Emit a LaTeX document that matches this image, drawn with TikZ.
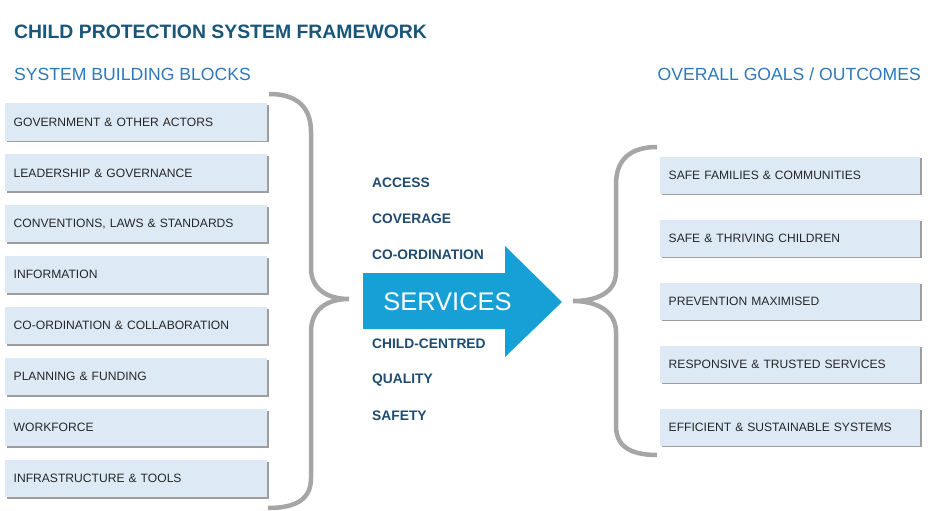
\documentclass[tikz,border=0pt]{standalone}
\usepackage{fontspec}
\setmainfont{Liberation Sans}
\usetikzlibrary{shadows}
\definecolor{titleblue}{RGB}{24,86,122}
\definecolor{headblue}{RGB}{46,120,185}
\definecolor{wordblue}{RGB}{30,75,112}
\definecolor{boxblue}{RGB}{221,234,246}
\definecolor{arrowblue}{RGB}{22,160,214}
\definecolor{bracegray}{RGB}{166,166,166}
\tikzset{
	block/.style={fill=boxblue, anchor=west, align=left, inner xsep=8.5pt,
		minimum height=37pt, text=black!85, font=\fontsize{12.1}{13}\selectfont,
		drop shadow={shadow xshift=1.6pt, shadow yshift=-1.8pt, fill=black!55, opacity=.7}},
	quality word/.style={anchor=west, inner xsep=0pt, text=wordblue, font=\bfseries\fontsize{13.8}{15}\selectfont},
	brace/.style={draw=bracegray, line width=4.5pt}
}
\begin{document}
\begin{tikzpicture}[x=1pt, y=-1pt]
	\useasboundingbox (0,0) rectangle (938,511);
	%headings
	\node (title) at (14,31.5) [anchor=west, inner xsep=0pt, text=titleblue, font=\bfseries\fontsize{19.4}{22}\selectfont]{CHILD PROTECTION SYSTEM FRAMEWORK};
	\node (blocks) at (14,74) [anchor=west, inner xsep=0pt, text=headblue, font=\fontsize{17.6}{20}\selectfont]{SYSTEM BUILDING BLOCKS};
	\node (goals) at (921,74) [anchor=east, inner xsep=0pt, text=headblue, font=\fontsize{17.6}{20}\selectfont]{OVERALL GOALS / OUTCOMES};

	%building blocks
	\foreach \t [count=\i] in {GOVERNMENT \& OTHER ACTORS, LEADERSHIP \& GOVERNANCE,
		{CONVENTIONS, LAWS \& STANDARDS}, INFORMATION, CO-ORDINATION \& COLLABORATION,
		PLANNING \& FUNDING, WORKFORCE, INFRASTRUCTURE \& TOOLS}{
		\node (blk\i) at (5, 122+50.9*\i-50.9) [block, text width=245pt]{\t};
	}

	%goals
	\foreach \t [count=\i] in {SAFE FAMILIES \& COMMUNITIES, SAFE \& THRIVING CHILDREN,
		PREVENTION MAXIMISED, RESPONSIVE \& TRUSTED SERVICES,
		EFFICIENT \& SUSTAINABLE SYSTEMS}{
		\node (goal\i) at (660, 175+63*\i-63) [block, text width=243pt]{\t};
	}

	%braces
	\draw[brace] (269,94) .. controls (298,94) and (311,108) .. (311,132) -- (311,268)
		.. controls (311,288) and (326,299) .. (349,299)
		.. controls (326,299) and (311,310) .. (311,332) -- (311,478)
		.. controls (311,498) and (298,508) .. (268,508);
	\draw[brace] (657,147) .. controls (630,147) and (616,160) .. (616,184) -- (616,272)
		.. controls (616,292) and (598,301) .. (573,301)
		.. controls (598,301) and (616,312) .. (616,332) -- (616,426)
		.. controls (616,446) and (630,455) .. (657,455);

	%services arrow
	\fill[arrowblue] (363,273) -- (505,273) -- (505,246) -- (562,302) -- (505,357) -- (505,329) -- (363,329) -- cycle;
	\node (services) at (447.5,301.5) [text=white, font=\fontsize{25.5}{28}\selectfont]{SERVICES};

	%qualities
	\node (access) at (372,183) [quality word]{ACCESS};
	\node (coverage) at (372,219) [quality word]{COVERAGE};
	\node (coord) at (372,255) [quality word]{CO-ORDINATION};
	\node (childc) at (372,344) [quality word]{CHILD-CENTRED};
	\node (quality) at (372,380) [quality word]{QUALITY};
	\node (safety) at (372,416) [quality word]{SAFETY};
\end{tikzpicture}
\end{document}
